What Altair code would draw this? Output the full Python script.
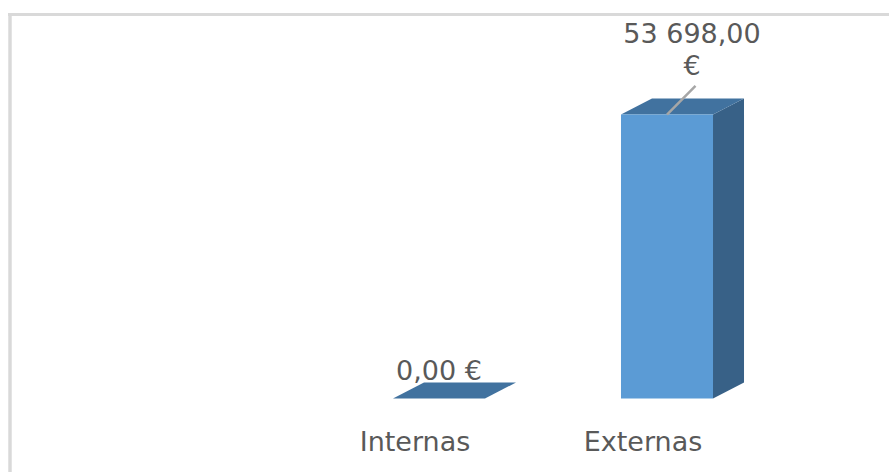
import altair as alt
import pandas as pd

# ---- data ----
categories = ["Internas", "Externas"]
values = [0.0, 53698.0]

# ---- style / geometry constants (not data) ----
FRONT = "#5B9BD5"
TOP = "#41729F"
SIDE = "#386187"
TEXT = "#595959"
FONT = "DejaVu Sans"
HALF_W = 0.2018      # half bar width in category units
DEPTH_X = 0.136      # 3-D depth, x direction (category units)
DEPTH_Y = 3025.0     # 3-D depth, y direction (value units)

base_df = pd.DataFrame({
    "cat": categories,
    "idx": list(range(1, len(categories) + 1)),
    "v": values,
})
# two vertices (front / back) per bar for the 3-D faces
face_df = pd.concat([base_df.assign(d=0), base_df.assign(d=1)], ignore_index=True)

xscale = alt.Scale(domain=[0, 3], range=[211, 895], nice=False, zero=False)
yscale = alt.Scale(domain=[0, 60000], range=[398.5, 81.2], nice=False, zero=False)
noax = None

front = alt.Chart(base_df).transform_calculate(
    xl=f"datum.idx - {HALF_W}", xr=f"datum.idx + {HALF_W}"
).mark_rect(color=FRONT).encode(
    x=alt.X("xl:Q", scale=xscale, axis=noax),
    x2="xr:Q",
    y=alt.Y("v:Q", scale=yscale, axis=noax),
    y2=alt.datum(0),
)

side = alt.Chart(face_df).transform_calculate(
    sx=f"datum.idx + {HALF_W} + datum.d * {DEPTH_X}",
    sy=f"datum.v + datum.d * {DEPTH_Y}",
    sy2=f"datum.d * {DEPTH_Y}",
).mark_area(color=SIDE, orient="vertical").encode(
    x=alt.X("sx:Q", scale=xscale, axis=noax),
    y=alt.Y("sy:Q", scale=yscale, axis=noax),
    y2="sy2:Q",
    detail="cat:N",
)

top = alt.Chart(face_df).transform_calculate(
    tx=f"datum.idx - {HALF_W} + datum.d * {DEPTH_X}",
    tx2=f"datum.idx + {HALF_W} + datum.d * {DEPTH_X}",
    ty=f"datum.v + datum.d * {DEPTH_Y}",
).mark_area(color=TOP, orient="horizontal").encode(
    y=alt.Y("ty:Q", scale=yscale, axis=noax),
    x=alt.X("tx:Q", scale=xscale, axis=noax),
    x2="tx2:Q",
    detail="cat:N",
)

leader = alt.Chart(base_df).transform_filter("datum.v > 0").transform_calculate(
    lx2="datum.idx + 0.125", ly2="datum.v + 5400"
).mark_rule(color="#A6A6A6", strokeWidth=2.5).encode(
    x=alt.X("idx:Q", scale=xscale, axis=noax),
    y=alt.Y("v:Q", scale=yscale, axis=noax),
    x2="lx2:Q",
    y2="ly2:Q",
)

label_expr = "replace(replace(format(datum.v, ',.2f'), ',', ' '), '.', ',')"

lab_small = alt.Chart(base_df).transform_filter("datum.v == 0").transform_calculate(
    lab=label_expr + " + ' €'"
).mark_text(font=FONT, fontSize=27, color=TEXT, align="center", baseline="middle",
            dx=0, dy=-27).encode(
    x=alt.X("idx:Q", scale=xscale, axis=noax),
    y=alt.Y("v:Q", scale=yscale, axis=noax),
    text="lab:N",
)

lab_big = alt.Chart(base_df).transform_filter("datum.v > 0").transform_calculate(
    lab=label_expr + " + '\\n€'"
).mark_text(font=FONT, fontSize=27, color=TEXT, align="center", baseline="middle",
            lineBreak="\n", lineHeight=32, dx=25, dy=-80).encode(
    x=alt.X("idx:Q", scale=xscale, axis=noax),
    y=alt.Y("v:Q", scale=yscale, axis=noax),
    text="lab:N",
)

cat_labels = alt.Chart(base_df).mark_text(
    font=FONT, fontSize=27, color=TEXT, align="center", baseline="middle",
    dx=-24, dy=44
).encode(
    x=alt.X("idx:Q", scale=xscale, axis=noax),
    y=alt.Y("zero:Q", scale=yscale, axis=noax),
    text="cat:N",
).transform_calculate(zero="0")

frame_top = alt.Chart(base_df).mark_rule(color="#D9D9D9", strokeWidth=3).encode(
    x=alt.value(8), x2=alt.value(889), y=alt.value(14.5)
)
frame_left = alt.Chart(base_df).mark_rule(color="#D9D9D9", strokeWidth=3).encode(
    x=alt.value(10), y=alt.value(13), y2=alt.value(472)
)

chart = alt.layer(
    frame_top, frame_left, side, top, front, leader, lab_small, lab_big, cat_labels
).properties(
    width=889, height=472, padding=0, autosize="none", background="white"
).configure_view(stroke=None)

chart.save("out.html", embed_options={"renderer": "svg", "actions": False})
